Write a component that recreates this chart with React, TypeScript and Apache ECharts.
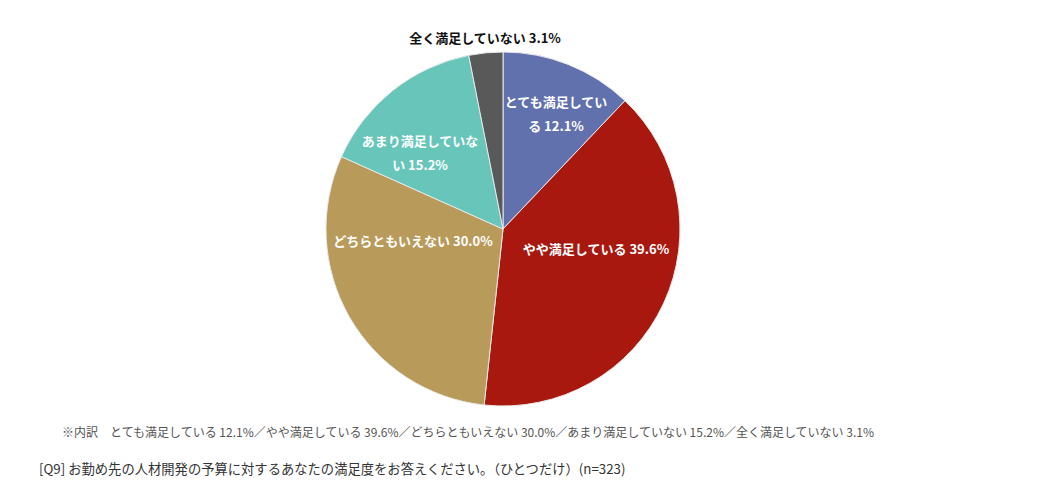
import React, { useEffect, useRef } from 'react';
import * as echarts from 'echarts';

const categories = ['とても満足している', 'やや満足している', 'どちらともいえない', 'あまり満足していない', '全く満足していない'];
const values = [12.1, 39.6, 30.0, 15.2, 3.1];
const colors = ['#6171ad', '#a8180e', '#b89a5a', '#67c6b9', '#595959'];
// label text as wrapped in the original
const labelTexts = ['とても満足してい\nる 12.1%', 'やや満足している 39.6%', 'どちらともいえない 30.0%', 'あまり満足していな\nい 15.2%', '全く満足していない 3.1%'];
// label centres (px)
const labelPos = [[556, 113], [596, 248], [413, 240], [420, 152], [485, 37]];

const note = '※内訳　' + categories.map((c, i) => `${c} ${values[i].toFixed(1)}%`).join('／');
const question = '[Q9] お勤め先の人材開発の予算に対するあなたの満足度をお答えください。（ひとつだけ）(n=323)';

const FONT = '"Noto Sans CJK JP", "Noto Sans", sans-serif';

const App = () => {
  const chartRef = useRef(null);

  useEffect(() => {
    const chart = echarts.init(chartRef.current, null, { renderer: 'svg' });

    const option = {
      animation: false,
      textStyle: { fontFamily: FONT },
      title: [
        {
          text: note,
          left: 57,
          top: 420,
          textStyle: { fontSize: 12, fontWeight: 'normal', color: '#555', fontFamily: FONT },
        },
        {
          text: question,
          left: 34,
          top: 457,
          textStyle: { fontSize: 13.3, fontWeight: 'normal', color: '#333', fontFamily: FONT },
        },
      ],
      series: [
        {
          type: 'pie',
          center: [503, 229],
          radius: 177,
          startAngle: 90,
          clockwise: true,
          itemStyle: { borderColor: '#e8e8e8', borderWidth: 1 },
          label: {
            show: true,
            position: 'inside',
            fontFamily: FONT,
            fontSize: 13,
            fontWeight: 'bold',
            color: '#fff',
            lineHeight: 24,
            align: 'center',
            formatter: (p) => labelTexts[p.dataIndex],
          },
          labelLine: { show: false },
          labelLayout: (p) => ({
            x: labelPos[p.dataIndex][0],
            y: labelPos[p.dataIndex][1],
            align: 'center',
            verticalAlign: 'middle',
          }),
          data: categories.map((c, i) => ({
            name: c,
            value: values[i],
            itemStyle: { color: colors[i] },
            label: i === 4 ? { color: '#111' } : undefined,
          })),
        },
      ],
    };

    chart.setOption(option);

    return () => {
      chart.dispose();
    };
  }, []);

  return <div ref={chartRef} style={{ position: 'fixed', left: 0, top: 0, width: '1040px', height: '498px', background: '#fff' }} />;
};

export default App;
